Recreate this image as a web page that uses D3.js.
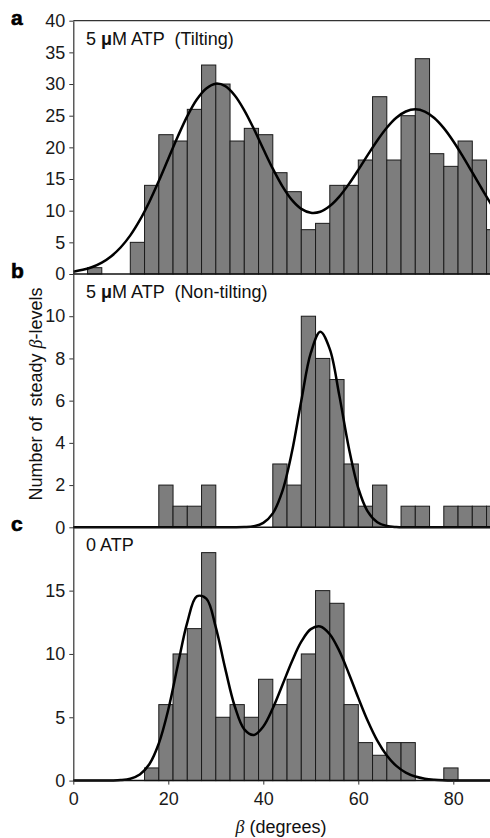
<!doctype html>
<html lang="en">
<head>
<meta charset="utf-8">
<title>Steady beta-levels histograms</title>
<script src="https://cdn.jsdelivr.net/npm/d3@7"></script>
<style>
  body { margin: 0; background: #fff; }
  svg { display: block; font-family: "Liberation Sans", Arial, sans-serif; }
  text { white-space: pre; }
  .tick text { font-size: 18px; fill: #1a1a1a; }
  .tick line, .domain { stroke: #333; }
</style>
</head>
<body>
<svg id="chart" width="490" height="838"></svg>
<script>
// bin starts (degrees), bins are 3 degrees wide
var binStarts = [0, 3, 6, 9, 12, 15, 18, 21, 24, 27, 30, 33, 36, 39, 42, 45, 48, 51, 54, 57, 60, 63, 66, 69, 72, 75, 78, 81, 84, 87];
var binWidth = 3;

// counts per bin
var countsA = [0, 1, 0, 0, 5, 14, 22, 21, 26, 33, 30, 21, 23, 22, 16, 13, 7, 8, 14, 14, 18, 28, 18, 25, 34, 19, 17, 21, 18, 7];
var countsB = [0, 0, 0, 0, 0, 0, 2, 1, 1, 2, 0, 0, 0, 0, 3, 2, 10, 8, 7, 3, 1, 2, 0, 1, 1, 0, 1, 1, 1, 1];
var countsC = [0, 0, 0, 0, 0, 1, 6, 10, 12, 18, 5, 6, 5, 8, 6, 8, 10, 15, 14, 6, 3, 2, 3, 3, 0, 0, 1, 0, 0, 0];

// fitted curves, sampled every 2 degrees
var curveX = [0, 2, 4, 6, 8, 10, 12, 14, 16, 18, 20, 22, 24, 26, 28, 30, 32, 34, 36, 38, 40, 42, 44,
              46, 48, 50, 52, 54, 56, 58, 60, 62, 64, 66, 68, 70, 72, 74, 76, 78, 80, 82, 84, 86, 88, 90];
var curveA = [0.37, 0.66, 1.11, 1.80, 2.81, 4.22, 6.10, 8.50, 11.38, 14.67, 18.20, 21.71, 24.94, 27.56, 29.31, 30.06,
              29.66, 28.19, 25.85, 22.93, 19.74, 16.63, 13.88, 11.71, 10.29, 9.67, 9.83, 10.73, 12.22, 14.19, 16.45,
              18.81, 21.09, 23.10, 24.67, 25.66, 26.00, 25.65, 24.64, 23.04, 20.97, 18.58, 16.03, 13.46, 11.00, 8.76];
var curveB = [0, 0, 0, 0, 0, 0, 0, 0, 0, 0, 0, 0, 0, 0, 0, 0, 0, 0, 0.01, 0.05, 0.21, 0.66, 1.70,
              3.54, 6.00, 8.26, 9.26, 8.44, 6.25, 3.77, 1.85, 0.74, 0.24, 0.06, 0.01, 0, 0, 0, 0, 0, 0, 0, 0, 0, 0, 0];
var curveC = [0, 0, 0, 0, 0.01, 0.04, 0.15, 0.48, 1.29, 2.93, 5.61, 9.11, 12.50, 14.55, 14.37, 12.10, 8.82, 5.85,
              4.04, 3.60, 4.27, 5.71, 7.53, 9.39, 10.97, 11.96, 12.17, 11.56, 10.24, 8.46, 6.53, 4.70, 3.15, 1.98,
              1.16, 0.63, 0.32, 0.15, 0.07, 0.03, 0.01, 0, 0, 0, 0, 0];

var panelLetters = ["a", "b", "c"];
var panelTitles = ["5 μM ATP  (Tilting)", "5 μM ATP  (Non-tilting)", "0 ATP"];
var yMax = [40, 12, 20];
var yTicks = [[0, 5, 10, 15, 20, 25, 30, 35, 40], [0, 2, 4, 6, 8, 10], [0, 5, 10, 15]];
var xTicks = [0, 20, 40, 60, 80];

var svg = d3.select("#chart");
var left = 73.3, top0 = 20.7, panelH = 253.3;

var x = d3.scaleLinear().domain([0, 90]).range([left, left + 90 * 4.75]);

var panels = [
  { counts: countsA, curve: curveA },
  { counts: countsB, curve: curveB },
  { counts: countsC, curve: curveC }
];

panels.forEach(function(p, i) {
  var yTop = top0 + i * panelH, yBot = yTop + panelH;
  var y = d3.scaleLinear().domain([0, yMax[i]]).range([yBot, yTop]);
  var g = svg.append("g");

  var bins = binStarts.map(function(b, k) { return { x0: b, n: p.counts[k] }; })
    .filter(function(d) { return d.n > 0; });

  g.selectAll("rect").data(bins).enter().append("rect")
    .attr("x", function(d) { return x(d.x0); })
    .attr("y", function(d) { return y(d.n); })
    .attr("width", function(d) { return x(d.x0 + binWidth) - x(d.x0); })
    .attr("height", function(d) { return y(0) - y(d.n); })
    .attr("fill", "#7d7d7d")
    .attr("stroke", "#1a1a1a")
    .attr("stroke-width", 1);

  var line = d3.line()
    .x(function(d) { return x(d[0]); })
    .y(function(d) { return y(d[1]); })
    .curve(d3.curveCatmullRom);
  g.append("path")
    .datum(curveX.map(function(v, k) { return [v, p.curve[k]]; }))
    .attr("d", line)
    .attr("fill", "none")
    .attr("stroke", "#000")
    .attr("stroke-width", 2.5);

  // left axis
  var ax = g.append("g").attr("transform", "translate(" + left + ",0)")
    .call(d3.axisLeft(y).tickValues(yTicks[i]).tickSize(4).tickPadding(4).tickSizeOuter(0));
  ax.select(".domain").attr("stroke-width", 1.2);

  // baseline
  g.append("line")
    .attr("x1", left).attr("x2", 490).attr("y1", yBot).attr("y2", yBot)
    .attr("stroke", "#111").attr("stroke-width", 1.5);
  if (i === 0) {
    g.append("line")
      .attr("x1", left).attr("x2", 490).attr("y1", yTop).attr("y2", yTop)
      .attr("stroke", "#333").attr("stroke-width", 1.2);
  }

  g.append("text")
    .attr("x", 11).attr("y", yTop + 4)
    .attr("font-size", 21).attr("font-weight", 900)
    .attr("stroke", "#000").attr("stroke-width", 0.6)
    .text(panelLetters[i]);

  var t = g.append("text")
    .attr("x", 86).attr("y", yTop + 24)
    .attr("font-size", 18).attr("fill", "#111");
  if (i < 2) {
    t.append("tspan").text("5 ");
    t.append("tspan").attr("font-weight", "bold").text("μ");
    t.append("tspan").text(panelTitles[i].slice(3));
  } else {
    t.text(panelTitles[i]);
  }

  if (i === 2) {
    var xa = svg.append("g").attr("transform", "translate(0," + yBot + ")")
      .call(d3.axisBottom(x).tickValues(xTicks).tickSize(4).tickPadding(8).tickSizeOuter(0));
    xa.select(".domain").remove();
  }
});

// axis titles
var yt = svg.append("text")
  .attr("transform", "translate(42,394) rotate(-90)")
  .attr("text-anchor", "middle")
  .attr("font-size", 18).attr("fill", "#111");
yt.append("tspan").text("Number of  steady ");
yt.append("tspan").attr("font-family", "Liberation Serif, serif").attr("font-style", "italic").text("β");
yt.append("tspan").text("-levels");

var xt = svg.append("text")
  .attr("x", 281).attr("y", 833)
  .attr("text-anchor", "middle")
  .attr("font-size", 18).attr("fill", "#111");
xt.append("tspan").attr("font-family", "Liberation Serif, serif").attr("font-style", "italic").text("β");
xt.append("tspan").text(" (degrees)");
</script>
</body>
</html>
